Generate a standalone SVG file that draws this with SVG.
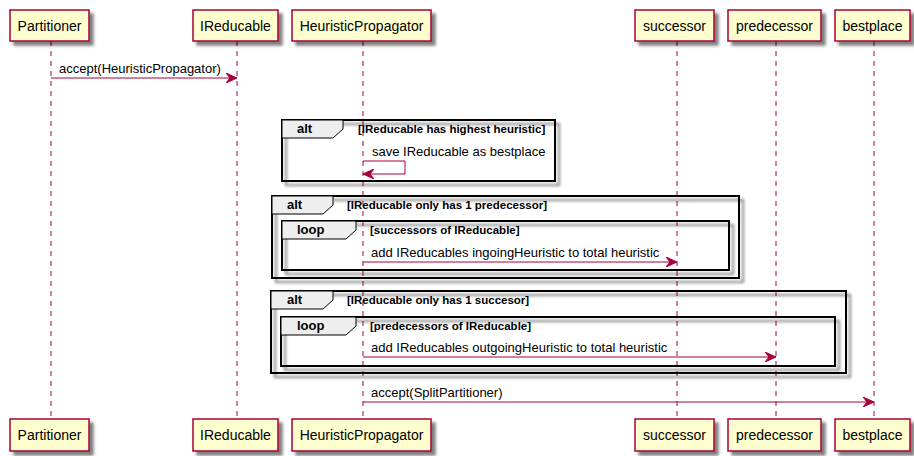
<svg xmlns="http://www.w3.org/2000/svg" width="914" height="456" viewBox="0 0 914 456">
  <defs>
    <filter id="shadow" x="-10%" y="-10%" width="130%" height="140%">
      <feGaussianBlur in="SourceAlpha" stdDeviation="1.6" result="blur"/>
      <feOffset in="blur" dx="4" dy="4" result="off"/>
      <feComponentTransfer in="off" result="soft">
        <feFuncA type="linear" slope="0.5"/>
      </feComponentTransfer>
      <feMerge>
        <feMergeNode in="soft"/>
        <feMergeNode in="SourceGraphic"/>
      </feMerge>
    </filter>
    <marker id="arrow" viewBox="0 0 12 10" refX="11" refY="5" markerWidth="12" markerHeight="10" markerUnits="userSpaceOnUse" orient="auto">
      <path d="M0,0 L11,5 L0,10 L4,5 Z" fill="#A80036" stroke="#A80036" stroke-width="1"/>
    </marker>
  </defs>
  <style>
    .box { fill: #FEFECE; stroke: #A80036; stroke-width: 1.5; }
    .pname { font-family: "Liberation Sans", Arial, sans-serif; font-size: 14px; fill: #000; text-anchor: middle; }
    .life { stroke: #A80036; stroke-width: 1; stroke-dasharray: 5,5; fill: none; }
    .msg { stroke: #A80036; stroke-width: 1; fill: none; }
    .mtext { font-family: "Liberation Sans", Arial, sans-serif; font-size: 13px; fill: #000; }
    .frame { fill: none; stroke: #000; stroke-width: 2; }
    .tab { fill: #EEEEEE; stroke: #000; stroke-width: 1; }
    .kind { font-family: "Liberation Sans", Arial, sans-serif; font-size: 13px; font-weight: bold; fill: #000; }
    .cond { font-family: "Liberation Sans", Arial, sans-serif; font-size: 11.5px; font-weight: bold; fill: #000; }
  </style>

  <!-- lifelines -->
  <g id="lifelines">
    <line class="life" x1="51" y1="41" x2="51" y2="419"/>
    <line class="life" x1="237" y1="41" x2="237" y2="419"/>
    <line class="life" x1="363" y1="41" x2="363" y2="419"/>
    <line class="life" x1="677" y1="41" x2="677" y2="419"/>
    <line class="life" x1="776" y1="41" x2="776" y2="419"/>
    <line class="life" x1="874" y1="41" x2="874" y2="419"/>
  </g>

  <!-- participants -->
  <g id="Partitioner">
    <rect class="box" x="10" y="10" width="79" height="31" filter="url(#shadow)"/>
    <text class="pname" x="49.5" y="31">Partitioner</text>
    <rect class="box" x="10" y="419" width="79" height="32" filter="url(#shadow)"/>
    <text class="pname" x="49.5" y="440">Partitioner</text>
  </g>
  <g id="IReducable">
    <rect class="box" x="193" y="10" width="85" height="31" filter="url(#shadow)"/>
    <text class="pname" x="235.5" y="31">IReducable</text>
    <rect class="box" x="193" y="419" width="85" height="32" filter="url(#shadow)"/>
    <text class="pname" x="235.5" y="440">IReducable</text>
  </g>
  <g id="HeuristicPropagator">
    <rect class="box" x="292" y="10" width="139" height="31" filter="url(#shadow)"/>
    <text class="pname" x="361.5" y="31">HeuristicPropagator</text>
    <rect class="box" x="292" y="419" width="139" height="32" filter="url(#shadow)"/>
    <text class="pname" x="361.5" y="440">HeuristicPropagator</text>
  </g>
  <g id="successor">
    <rect class="box" x="635" y="10" width="79" height="31" filter="url(#shadow)"/>
    <text class="pname" x="674.5" y="31">successor</text>
    <rect class="box" x="635" y="419" width="79" height="32" filter="url(#shadow)"/>
    <text class="pname" x="674.5" y="440">successor</text>
  </g>
  <g id="predecessor">
    <rect class="box" x="728" y="10" width="93" height="31" filter="url(#shadow)"/>
    <text class="pname" x="774.5" y="31">predecessor</text>
    <rect class="box" x="728" y="419" width="93" height="32" filter="url(#shadow)"/>
    <text class="pname" x="774.5" y="440">predecessor</text>
  </g>
  <g id="bestplace">
    <rect class="box" x="835" y="10" width="75" height="31" filter="url(#shadow)"/>
    <text class="pname" x="872.5" y="31">bestplace</text>
    <rect class="box" x="835" y="419" width="75" height="32" filter="url(#shadow)"/>
    <text class="pname" x="872.5" y="440">bestplace</text>
  </g>

  <!-- combined fragments -->
  <g id="alt-highest">
    <rect class="frame" x="282" y="120" width="273" height="61" filter="url(#shadow)"/>
    <path class="tab" d="M282,120 L343,120 L343,129 L333,138 L282,138 Z"/>
    <text class="kind" x="297" y="133">alt</text>
    <text class="cond" x="358" y="133">[IReducable has highest heuristic]</text>
  </g>
  <g id="alt-one-predecessor">
    <rect class="frame" x="272" y="196" width="467" height="82" filter="url(#shadow)"/>
    <path class="tab" d="M272,196 L333,196 L333,205 L323,214 L272,214 Z"/>
    <text class="kind" x="287" y="209">alt</text>
    <text class="cond" x="347" y="209">[IReducable only has 1 predecessor]</text>
  </g>
  <g id="loop-successors">
    <rect class="frame" x="282" y="221" width="447" height="49" filter="url(#shadow)"/>
    <path class="tab" d="M282,221 L356,221 L356,230 L346,239 L282,239 Z"/>
    <text class="kind" x="297" y="234">loop</text>
    <text class="cond" x="370" y="234">[successors of IReducable]</text>
  </g>
  <g id="alt-one-successor">
    <rect class="frame" x="271" y="291" width="575" height="82" filter="url(#shadow)"/>
    <path class="tab" d="M271,291 L333,291 L333,300 L323,309 L271,309 Z"/>
    <text class="kind" x="287" y="304">alt</text>
    <text class="cond" x="347" y="304">[IReducable only has 1 succesor]</text>
  </g>
  <g id="loop-predecessors">
    <rect class="frame" x="281" y="317" width="554" height="49" filter="url(#shadow)"/>
    <path class="tab" d="M281,317 L356,317 L356,326 L346,335 L281,335 Z"/>
    <text class="kind" x="297" y="330">loop</text>
    <text class="cond" x="370" y="330">[predecessors of IReducable]</text>
  </g>

  <!-- messages -->
  <g id="connectors">
    <line class="msg" x1="51" y1="78" x2="237" y2="78" marker-end="url(#arrow)"/>
    <text class="mtext" x="59" y="73">accept(HeuristicPropagator)</text>

    <polyline class="msg" points="363,161 405,161 405,174 363,174" marker-end="url(#arrow)"/>
    <text class="mtext" x="372" y="156">save IReducable as bestplace</text>

    <line class="msg" x1="363" y1="262" x2="677" y2="262" marker-end="url(#arrow)"/>
    <text class="mtext" x="371" y="257">add IReducables ingoingHeuristic to total heuristic</text>

    <line class="msg" x1="363" y1="357" x2="776" y2="357" marker-end="url(#arrow)"/>
    <text class="mtext" x="371" y="352">add IReducables outgoingHeuristic to total heuristic</text>

    <line class="msg" x1="363" y1="402" x2="874" y2="402" marker-end="url(#arrow)"/>
    <text class="mtext" x="371" y="397">accept(SplitPartitioner)</text>
  </g>
</svg>
